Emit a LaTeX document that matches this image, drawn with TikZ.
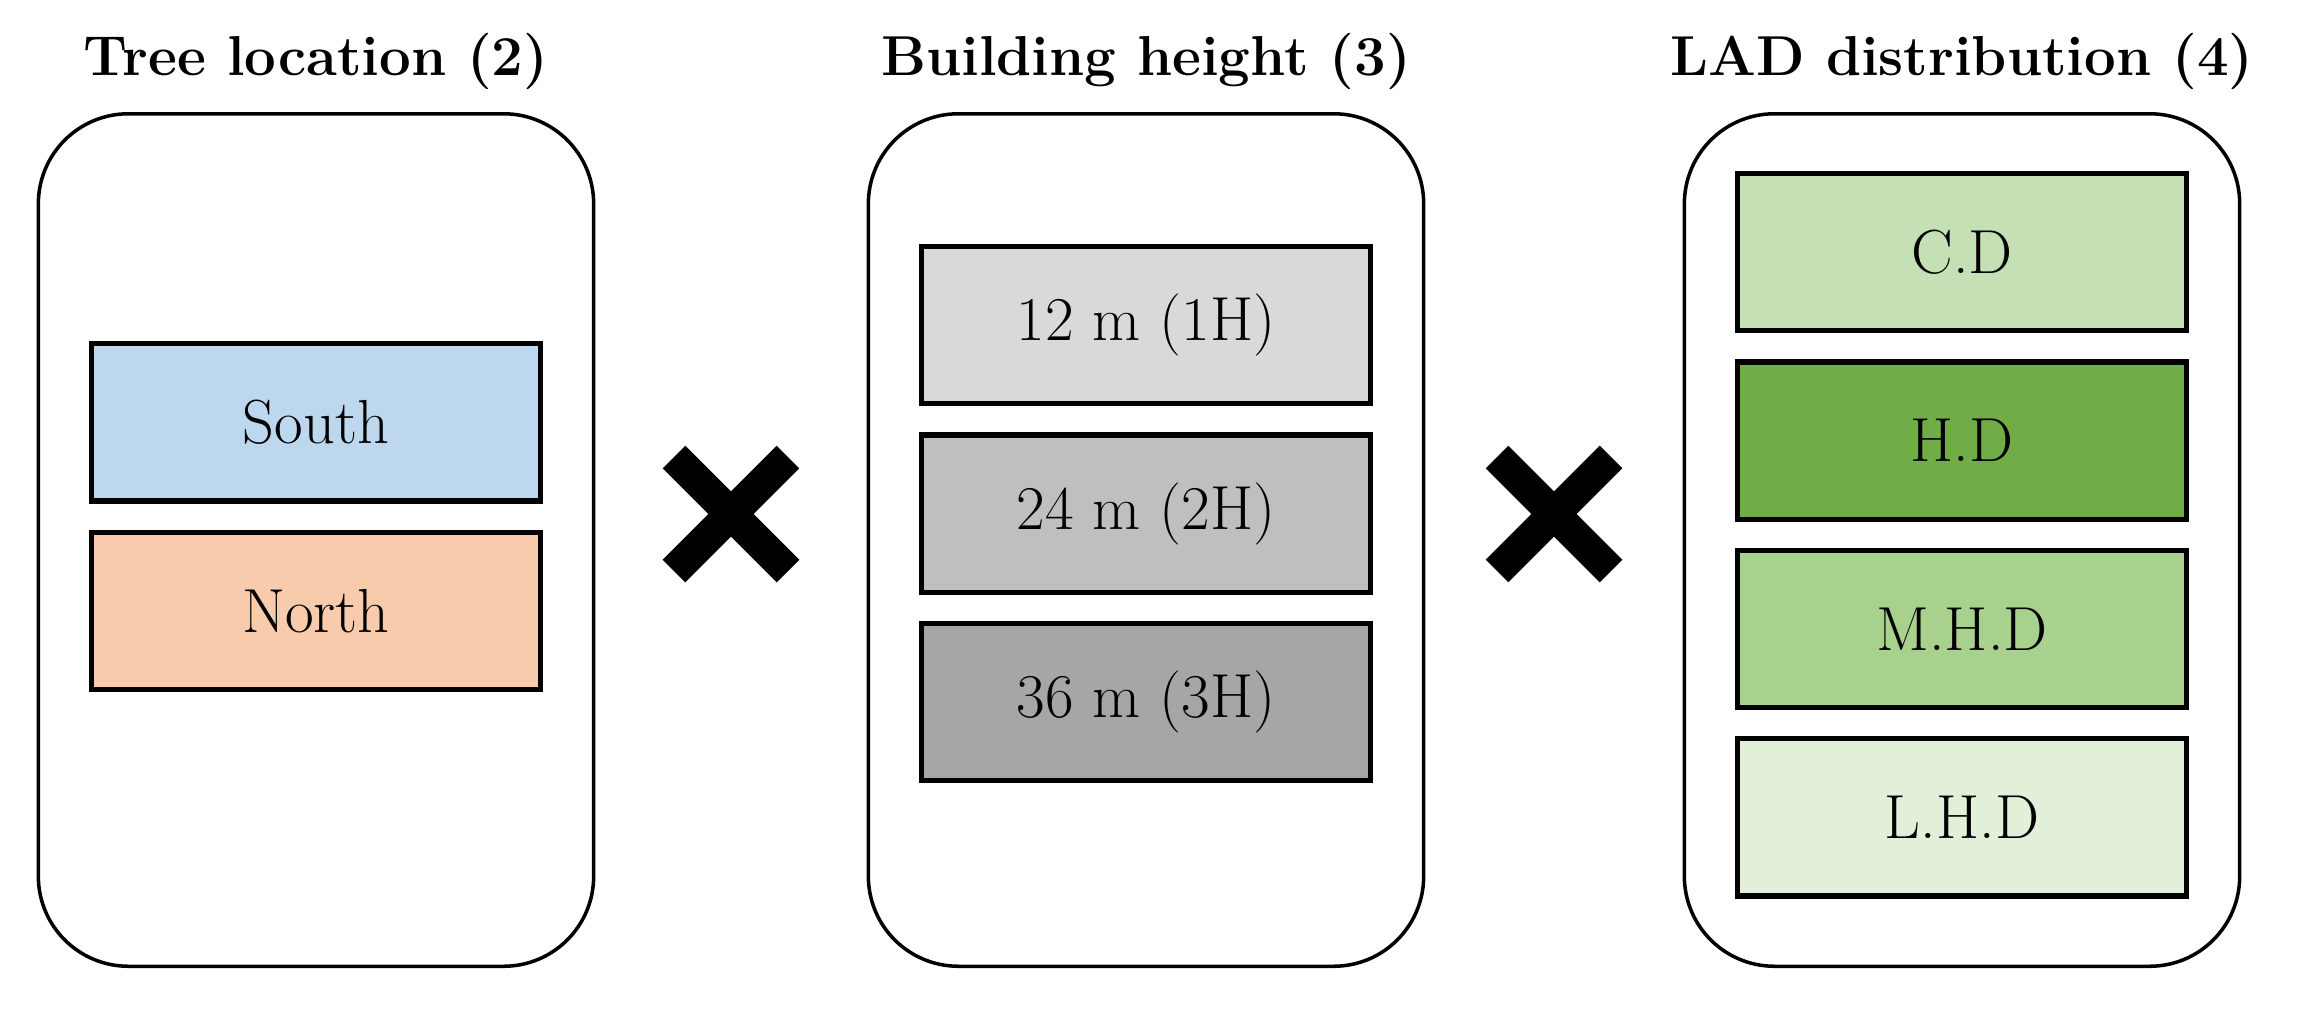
\documentclass[tikz,border=0pt]{standalone}
\usepackage{tikz}
\usetikzlibrary{positioning,calc}

\definecolor{southblue}{HTML}{BDD7EE}
\definecolor{northorange}{HTML}{F8CBAD}
\definecolor{grayone}{HTML}{D9D9D9}
\definecolor{graytwo}{HTML}{BFBFBF}
\definecolor{graythree}{HTML}{A6A6A6}
\definecolor{greencd}{HTML}{C5E0B4}
\definecolor{greenhd}{HTML}{70AD47}
\definecolor{greenmhd}{HTML}{A9D18E}
\definecolor{greenlhd}{HTML}{E2F0D9}

\begin{document}
\begin{tikzpicture}[
  x=0.01cm, y=-0.01cm,
  panel/.style={draw, line width=1pt, rounded corners=0.9cm, minimum width=5.55cm, minimum height=8.52cm, inner sep=0pt},
  cell/.style={draw, line width=1.5pt, minimum width=4.49cm, minimum height=1.57cm, inner sep=0pt, font=\fontsize{17.7}{21}\selectfont},
  title/.style={anchor=base, inner sep=0pt, font=\fontsize{16}{19}\selectfont\bfseries},
  cross/.style={line width=0.32cm}
]
\useasboundingbox (0,0) rectangle (2304,1008);

% the three factor panels
\node[panel] (loc) at (316,540) {};
\node[panel] (hgt) at (1146,540) {};
\node[panel] (lad) at (1962,540) {};

\node[title] (tloc) at ([yshift=3.6mm]loc.north) {Tree location (2)};
\node[title] (thgt) at ([yshift=3.6mm]hgt.north) {Building height (3)};
\node[title] (tlad) at ([yshift=3.6mm]lad.north) {LAD distribution (4)};

% tree location
\node[cell, fill=southblue, below=2.29cm of loc.north] (south) {South};
\node[cell, fill=northorange, below=0.26cm of south] (north) {North};

% building height
\node[cell, fill=grayone, below=1.32cm of hgt.north] (h1) {12 m (1H)};
\node[cell, fill=graytwo, below=0.26cm of h1] (h2) {24 m (2H)};
\node[cell, fill=graythree, below=0.26cm of h2] (h3) {36 m (3H)};

% LAD distribution
\node[cell, fill=greencd, below=0.59cm of lad.north] (cd) {C.D};
\node[cell, fill=greenhd, below=0.26cm of cd] (hd) {H.D};
\node[cell, fill=greenmhd, below=0.26cm of hd] (mhd) {M.H.D};
\node[cell, fill=greenlhd, below=0.26cm of mhd] (lhd) {L.H.D};

% multiplication marks
\coordinate (c1) at ($(loc.east)!0.5!(hgt.west)+(0,-26)$);
\coordinate (c2) at ($(hgt.east)!0.5!(lad.west)+(0,-26)$);
\foreach \c in {c1,c2} {
  \draw[cross] ($(\c)+(-57,-57)$) -- ($(\c)+(57,57)$);
  \draw[cross] ($(\c)+(-57,57)$) -- ($(\c)+(57,-57)$);
}
\end{tikzpicture}
\end{document}
